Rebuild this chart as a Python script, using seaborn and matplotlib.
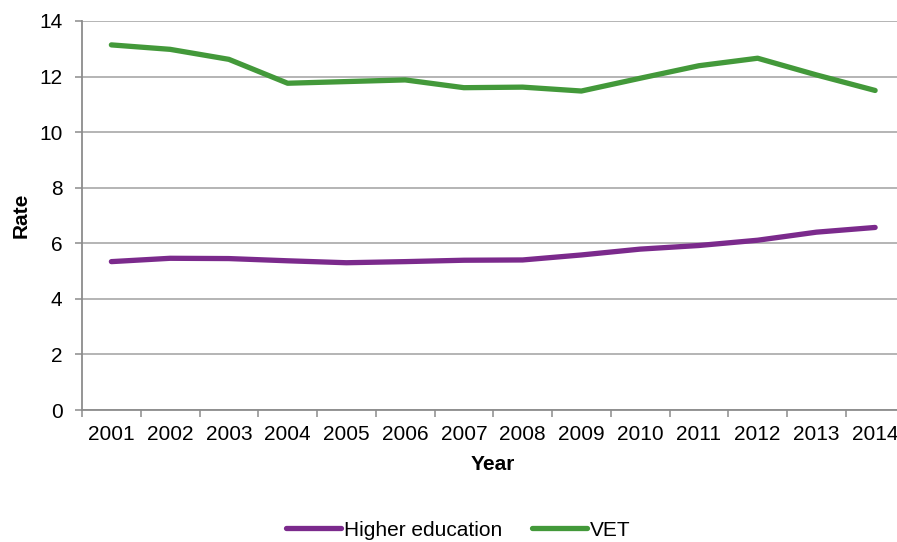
import matplotlib
matplotlib.use("Agg")
import matplotlib.pyplot as plt
from matplotlib.ticker import FixedLocator, NullFormatter
import pandas as pd
import seaborn as sns

years = [2001, 2002, 2003, 2004, 2005, 2006, 2007, 2008, 2009, 2010, 2011, 2012, 2013, 2014]
higher_education = [5.34, 5.46, 5.45, 5.37, 5.30, 5.34, 5.39, 5.40, 5.58, 5.79, 5.92, 6.11, 6.40, 6.57]
vet = [13.14, 12.98, 12.62, 11.76, 11.82, 11.88, 11.60, 11.62, 11.48, 11.94, 12.39, 12.66, 12.06, 11.50]

df = pd.concat([
    pd.DataFrame({"Year": years, "Rate": higher_education, "Series": "Higher education"}),
    pd.DataFrame({"Year": years, "Rate": vet, "Series": "VET"}),
])

sns.set_theme(style="white")
plt.rcParams["font.family"] = ["Liberation Sans", "DejaVu Sans"]
plt.rcParams["text.color"] = "black"
plt.rcParams["axes.labelcolor"] = "black"

FS = 15
W, H = 897, 542
fig = plt.figure(figsize=(W / 100, H / 100), dpi=100)
left, right, top, bottom = 82, 904.5, 21, 410
ax = fig.add_axes([left / W, 1 - bottom / H, (right - left) / W, (bottom - top) / H])

palette = {"Higher education": "#7B2A8C", "VET": "#43993A"}
sns.lineplot(data=df, x="Year", y="Rate", hue="Series", palette=palette,
             linewidth=3.8, ax=ax, legend=False, solid_capstyle="round", clip_on=False)

ax.set_xlim(2000.5, 2014.5)
ax.set_ylim(0, 14)
ax.set_yticks(range(0, 15, 2))
ax.yaxis.grid(True, color="#A0A0A0", linewidth=1.1)
ax.xaxis.grid(False)
ax.set_axisbelow(True)

# category boundaries carry the tick marks, centres carry the labels
ax.xaxis.set_major_locator(FixedLocator([y - 0.5 for y in years] + [years[-1] + 0.5]))
ax.xaxis.set_major_formatter(NullFormatter())
ax.xaxis.set_minor_locator(FixedLocator(years))
ax.set_xticklabels([str(y) for y in years], minor=True)
ax.tick_params(axis="x", which="major", length=5, width=1.1, color="#8C8C8C", direction="out", bottom=True)
ax.tick_params(axis="x", which="minor", length=0, pad=11, labelsize=FS, labelcolor="black", bottom=True)
ax.tick_params(axis="y", length=5, width=1.1, color="#8C8C8C", direction="out", left=True,
               labelsize=FS, labelcolor="black", pad=9)

for side in ("top", "right"):
    ax.spines[side].set_visible(False)
for side in ("left", "bottom"):
    ax.spines[side].set_color("#8C8C8C")
    ax.spines[side].set_linewidth(1.3)

ax.set_xlabel("Year", fontsize=FS, fontweight="bold", labelpad=8)
ax.set_ylabel("Rate", fontsize=FS, fontweight="bold", labelpad=6)

handles = [plt.Line2D([], [], color=palette[k], linewidth=3.8, solid_capstyle="round") for k in palette]
fig.legend(handles, list(palette.keys()), loc="center", bbox_to_anchor=(0.511, 1 - 530 / H),
           ncol=2, frameon=False, fontsize=FS, handlelength=2.65, handletextpad=0.15,
           columnspacing=1.4)

fig.savefig("out.png", dpi=100)
